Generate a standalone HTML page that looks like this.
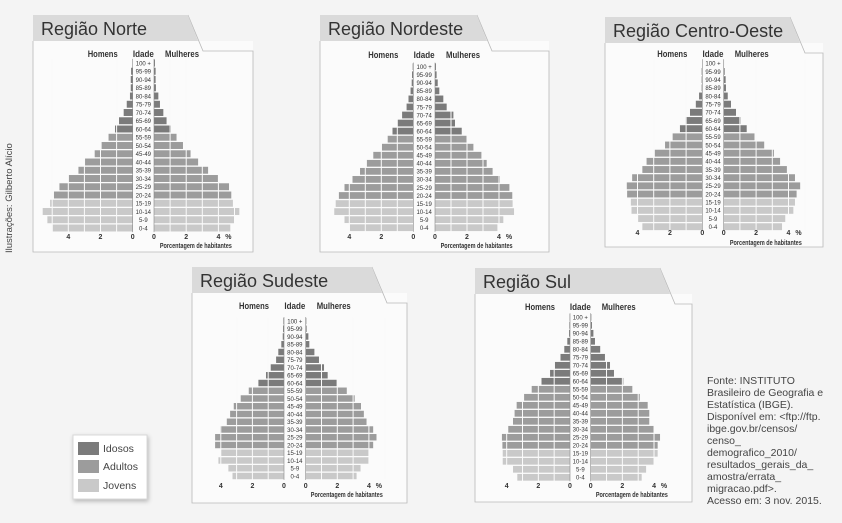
<!DOCTYPE html>
<html><head><meta charset="utf-8">
<style>
html,body{margin:0;padding:0;background:#f4f4f4;}
svg{display:block;font-family:"Liberation Sans",sans-serif;}
</style></head><body>
<svg id="s" width="842" height="523" viewBox="0 0 842 523" xmlns="http://www.w3.org/2000/svg">
<rect width="842" height="523" fill="#f4f4f4"/>
<text transform="translate(12,253) rotate(-90)" font-size="9.5" fill="#444">Ilustrações: Gilberto Alício</text>
<g font-size="10.5" fill="#444">
<text x="707" y="384">Fonte: INSTITUTO</text>
<text x="707" y="396">Brasileiro de Geografia e</text>
<text x="707" y="408">Estatística (IBGE).</text>
<text x="707" y="420">Disponível em: &lt;ftp://ftp.</text>
<text x="707" y="432">ibge.gov.br/censos/</text>
<text x="707" y="444">censo_</text>
<text x="707" y="456">demografico_2010/</text>
<text x="707" y="468">resultados_gerais_da_</text>
<text x="707" y="480">amostra/errata_</text>
<text x="707" y="492">migracao.pdf&gt;.</text>
<text x="707" y="504">Acesso em: 3 nov. 2015.</text>
</g>
<rect x="73" y="435" width="74" height="64" fill="#fff" stroke="#d8d8d8" style="filter:drop-shadow(1px 2px 2px rgba(0,0,0,.25))"/>
<rect x="78" y="442" width="21" height="13" fill="#7b7b7b"/>
<rect x="78" y="460" width="21" height="13" fill="#9c9c9c"/>
<rect x="78" y="479" width="21" height="13" fill="#c9c9c9"/>
<g font-size="10.5" fill="#444">
<text x="103" y="452">Idosos</text>
<text x="103" y="470">Adultos</text>
<text x="103" y="489">Jovens</text>
</g>
<g id="charts"></g>
</svg>
<script>
var ages=["100 +","95-99","90-94","85-89","80-84","75-79","70-74","65-69","60-64","55-59","50-54","45-49","40-44","35-39","30-34","25-29","20-24","15-19","10-14","5-9","0-4"];
var P=[
{t:"Região Norte",bx:33,bxr:253,ty:15,tw:155,bb:252,lz:132.7,rz:154,s:16.1,r0:63,step:8.25,hy:57,tky:239,py:248,
m:[0,0.1,0.12,0.12,0.17,0.37,0.56,0.85,1.1,1.5,1.93,2.36,2.96,3.37,3.97,4.55,4.89,5.13,5.59,5.3,4.97],
w:[0.06,0.1,0.1,0.12,0.27,0.37,0.58,0.78,1.05,1.4,1.8,2.27,2.74,3.36,4.0,4.66,4.8,4.9,5.3,4.97,4.74]},
{t:"Região Nordeste",bx:320,bxr:549,ty:15,tw:157,bb:252,lz:413.3,rz:435,s:16,r0:66.7,step:8.05,hy:58,tky:239,py:248,
m:[0.04,0.08,0.1,0.17,0.3,0.42,0.7,1.0,1.3,1.6,1.96,2.5,2.9,3.33,3.8,4.3,4.65,4.85,4.94,4.3,3.96],
w:[0.06,0.1,0.17,0.27,0.52,0.73,1.15,1.25,1.67,1.98,2.4,2.9,3.23,3.6,4.06,4.65,4.83,4.85,4.94,4.27,3.9]},
{t:"Região Centro-Oeste",bx:605,bxr:823,ty:17,tw:185,bb:247,lz:702.3,rz:723.7,s:16.2,r0:63.3,step:8.17,hy:57,tky:235,py:245,
m:[0,0.04,0.04,0.04,0.2,0.4,0.76,1.03,1.38,1.83,2.3,2.93,3.44,3.7,4.33,4.66,4.64,4.41,4.37,3.96,3.7],
w:[0.02,0.06,0.12,0.14,0.25,0.45,0.76,1.05,1.42,1.9,2.5,3.1,3.48,3.9,4.4,4.72,4.5,4.4,4.3,3.8,3.6]},
{t:"Região Sudeste",bx:192,bxr:407,ty:267,tw:180,bb:503,lz:284,rz:305.7,s:15.8,r0:321,step:7.75,hy:309,tky:488,py:497,
m:[0.04,0.06,0.08,0.17,0.36,0.5,0.84,1.14,1.62,2.23,2.74,3.18,3.41,3.62,4.04,4.36,4.36,4.0,4.15,3.52,3.26],
w:[0.04,0.06,0.17,0.23,0.55,0.84,1.16,1.39,1.96,2.6,3.1,3.5,3.68,3.85,4.27,4.48,4.27,4.0,4.0,3.47,3.22]},
{t:"Região Sul",bx:475,bxr:692,ty:268,tw:185,bb:502,lz:570,rz:590.7,s:15.83,r0:317.3,step:8,hy:310,tky:488,py:497,
m:[0.02,0.04,0.06,0.17,0.36,0.6,0.95,1.26,1.8,2.42,2.9,3.37,3.5,3.6,3.9,4.3,4.27,4.25,4.25,3.6,3.33],
w:[0.04,0.08,0.17,0.27,0.6,0.9,1.22,1.47,2.06,2.63,3.1,3.6,3.7,3.7,4.0,4.38,4.23,4.23,4.0,3.5,3.22]}
];
var g=document.getElementById("charts"),h="";
P.forEach(function(p){
 var th=26,x1=p.bx+p.tw,cx=(p.lz+p.rz)/2;
 h+='<rect x="'+p.bx+'" y="'+(p.ty+th)+'" width="'+(p.bxr-p.bx)+'" height="'+(p.bb-p.ty-th)+'" fill="#fbfbfb" stroke="none"/>';
 h+='<path d="M'+p.bx+' '+(p.ty+th)+' L'+p.bx+' '+p.bb+' L'+p.bxr+' '+p.bb+' L'+p.bxr+' '+(p.ty+36)+' L'+(x1+15)+' '+(p.ty+36)+' L'+x1+' '+p.ty+'" fill="none" stroke="#b8b8b8" stroke-width="0.8"/>';
 h+='<polygon points="'+p.bx+','+p.ty+' '+x1+','+p.ty+' '+(x1+10)+','+(p.ty+th)+' '+p.bx+','+(p.ty+th)+'" fill="#dadada"/>';
 h+='<text x="'+(p.bx+8)+'" y="'+(p.ty+20)+'" font-size="18" fill="#333">'+p.t+'</text>';
 h+='<g font-size="9" font-weight="bold" fill="#333" text-anchor="middle">';
 h+='<text x="'+(p.lz-30)+'" y="'+p.hy+'" textLength="30" lengthAdjust="spacingAndGlyphs">Homens</text>';
 h+='<text x="'+cx+'" y="'+p.hy+'" textLength="21" lengthAdjust="spacingAndGlyphs">Idade</text>';
 h+='<text x="'+(p.rz+28)+'" y="'+p.hy+'" textLength="34" lengthAdjust="spacingAndGlyphs">Mulheres</text></g>';
 var bh=p.step-1.3;
 for(var i=0;i<21;i++){
  var yc=p.r0+i*p.step, y=yc-bh/2;
  var col=i<=8?"#7b7b7b":(i<=16?"#9c9c9c":"#c9c9c9");
  var mw=p.m[i]*p.s, ww=p.w[i]*p.s;
  h+='<rect x="'+(p.lz-mw)+'" y="'+y+'" width="'+mw+'" height="'+bh+'" fill="'+col+'"/>';
  h+='<rect x="'+p.rz+'" y="'+y+'" width="'+ww+'" height="'+bh+'" fill="'+col+'"/>';
  h+='<text x="'+cx+'" y="'+(yc+2.3)+'" font-size="6" fill="#333" text-anchor="middle">'+ages[i]+'</text>';
 }
 var top=p.r0-p.step/2, bot=p.r0+20*p.step+p.step/2;
 for(var k=1;k<=5;k++){
  h+='<line x1="'+(p.lz-k*p.s)+'" y1="'+top+'" x2="'+(p.lz-k*p.s)+'" y2="'+bot+'" stroke="#fbfbfb" stroke-width="1"/>';
  h+='<line x1="'+(p.rz+k*p.s)+'" y1="'+top+'" x2="'+(p.rz+k*p.s)+'" y2="'+bot+'" stroke="#fbfbfb" stroke-width="1"/>';
 }
 h+='<line x1="'+p.lz+'" y1="'+top+'" x2="'+p.lz+'" y2="'+bot+'" stroke="#888" stroke-width="0.6"/>';
 h+='<line x1="'+p.rz+'" y1="'+top+'" x2="'+p.rz+'" y2="'+bot+'" stroke="#888" stroke-width="0.6"/>';
 h+='<g font-size="7" font-weight="bold" fill="#333" text-anchor="middle">';
 [0,2,4].forEach(function(v){
  h+='<text x="'+(p.lz-v*p.s)+'" y="'+p.tky+'">'+v+'</text>';
  h+='<text x="'+(p.rz+v*p.s)+'" y="'+p.tky+'">'+v+'</text>';
 });
 h+='<text x="'+(p.rz+4*p.s+10)+'" y="'+p.tky+'">%</text>';
 h+='<text x="'+(p.rz+2.6*p.s)+'" y="'+p.py+'" font-size="7" textLength="72" lengthAdjust="spacingAndGlyphs">Porcentagem de habitantes</text></g>';
});
g.innerHTML=h;
</script>
</body></html>
